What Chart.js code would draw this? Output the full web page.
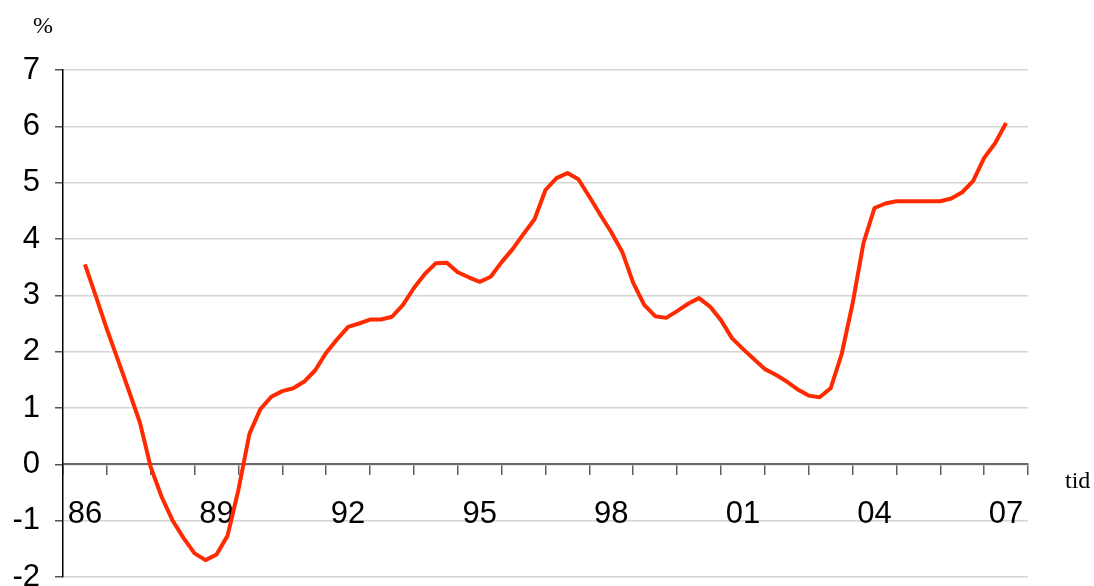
<!DOCTYPE html>
<html>
<head>
<meta charset="utf-8">
<script src="https://cdn.jsdelivr.net/npm/chart.js@4/dist/chart.umd.min.js"></script>
<style>
  html, body { margin: 0; padding: 0; background: #fff; }
  #wrap { width: 1094px; height: 586px; position: relative; }
</style>
</head>
<body>
<div id="wrap"><canvas id="chart" width="1094" height="586"></canvas></div>
<script>
// Quarterly series, 1986 Q1 .. 2007 Q1 (percent)
const firstYear = 1986;
const lastYear = 2007;
const rate = [
  3.55, 2.98, 2.40, 1.86, 1.31, 0.75, -0.05, -0.58, -1.00, -1.31, -1.58, -1.70, -1.60, -1.27, -0.45, 0.54,
  0.98, 1.20, 1.30, 1.35, 1.47, 1.67, 1.98, 2.22, 2.44, 2.50, 2.57, 2.57, 2.62, 2.83, 3.13, 3.38,
  3.57, 3.58, 3.41, 3.32, 3.24, 3.33, 3.59, 3.82, 4.09, 4.35, 4.87, 5.08, 5.17, 5.06, 4.75, 4.43,
  4.12, 3.77, 3.22, 2.83, 2.63, 2.60, 2.72, 2.85, 2.95, 2.80, 2.56, 2.24, 2.05, 1.87, 1.69, 1.59,
  1.47, 1.33, 1.22, 1.19, 1.35, 1.95, 2.85, 3.93, 4.55, 4.63, 4.67, 4.67, 4.67, 4.67, 4.67, 4.72,
  4.83, 5.03, 5.44, 5.70, 6.06
];
// Year labels shown under the time axis (every third year)
const tickLabels = ['86', '89', '92', '95', '98', '01', '04', '07'];
const yTicks = { min: -2, max: 7, step: 1 };
const unitLabel = '%';
const timeLabel = 'tid';

// One category band per year; only every third one carries text
const yearBands = [];
for (let y = firstYear; y <= lastYear; y++) {
  const short = String(y).slice(2);
  yearBands.push(tickLabels.includes(short) ? short : '');
}
const points = rate.map((v, i) => ({ x: firstYear + i / 4, y: v }));

const notes = {
  id: 'notes',
  afterDraw(chart) {
    const c = chart.ctx;
    const area = chart.chartArea;
    const zeroY = chart.scales.y.getPixelForValue(0);
    c.save();
    c.fillStyle = '#000';
    c.textAlign = 'left';
    c.textBaseline = 'alphabetic';
    c.font = '24px "Liberation Serif"';
    c.fillText(unitLabel, area.left - 30, 33);
    c.fillText(timeLabel, area.right + 37, zeroY + 24);
    c.restore();
  }
};

const axisFont = { family: '"Liberation Sans", Arial, sans-serif', size: 31 };

new Chart(document.getElementById('chart'), {
  type: 'line',
  data: {
    datasets: [{
      data: points,
      xAxisID: 'x',
      yAxisID: 'y',
      borderColor: '#ff2a00',
      borderWidth: 4,
      borderJoinStyle: 'round',
      pointRadius: 0,
      tension: 0,
      fill: false
    }]
  },
  options: {
    responsive: false,
    animation: false,
    layout: { padding: { left: 0, top: 70, right: 66, bottom: 9 } },
    plugins: { legend: { display: false }, tooltip: { enabled: false } },
    scales: {
      x: {
        type: 'linear',
        display: false,
        min: firstYear - 0.5,
        max: lastYear + 0.5
      },
      xc: {
        type: 'category',
        labels: yearBands,
        offset: true,
        position: { y: 0 },
        grid: {
          offset: true,
          drawOnChartArea: false,
          drawTicks: true,
          tickLength: 10,
          color: '#606060',
          lineWidth: 1.5
        },
        border: { display: true, color: '#6a6a6a', width: 2 },
        ticks: {
          autoSkip: false,
          maxRotation: 0,
          minRotation: 0,
          padding: 22,
          color: '#000',
          font: axisFont
        },
        afterFit(s) { s.paddingLeft = 0; s.paddingRight = 0; }
      },
      y: {
        min: yTicks.min,
        max: yTicks.max,
        ticks: { stepSize: yTicks.step, padding: 15, color: '#000', font: axisFont },
        grid: { color: '#d4d4d4', lineWidth: 1.5, tickLength: 8, tickColor: '#555' },
        border: { display: true, color: '#000', width: 1.5 },
        afterFit(s) { s.width = 63; s.paddingTop = 0; s.paddingBottom = 0; }
      }
    }
  },
  plugins: [notes]
});
</script>
</body>
</html>
